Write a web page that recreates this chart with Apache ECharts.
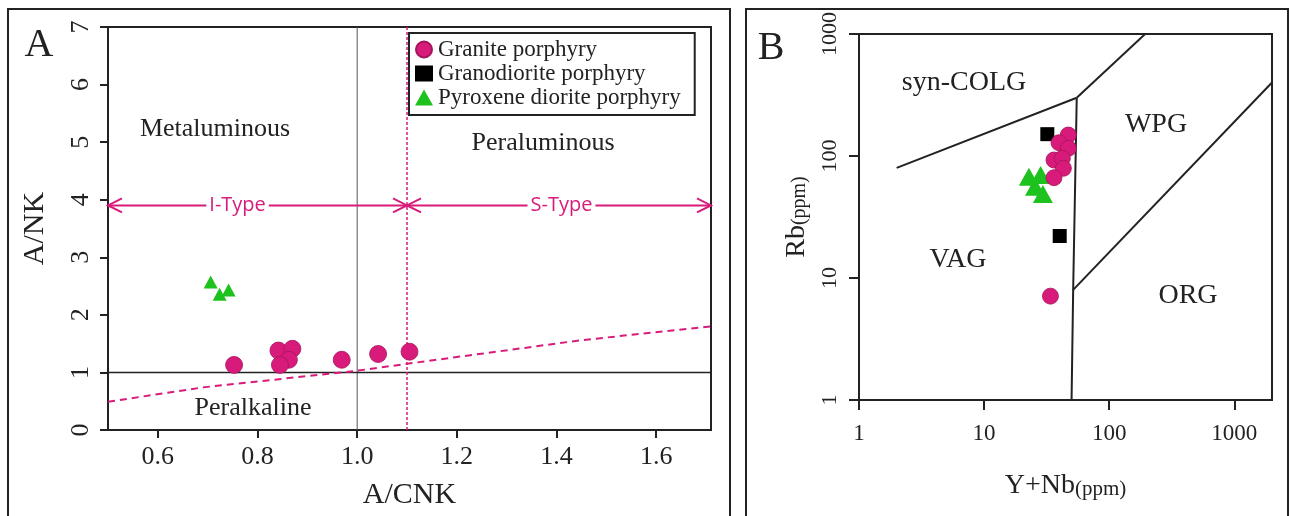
<!DOCTYPE html>
<html>
<head>
<meta charset="utf-8">
<script src="https://cdn.jsdelivr.net/npm/echarts@6/dist/echarts.min.js"></script>
<style>
  html, body { margin: 0; padding: 0; background: #fff; }
  #chart { width: 1291px; height: 516px; }
</style>
</head>
<body>
<div id="chart"></div>
<script>
// ---- panel A : A/CNK - A/NK
const graniteA = [[0.753, 1.13], [0.842, 1.38], [0.870, 1.41], [0.863, 1.22], [0.845, 1.13], [0.969, 1.22], [1.042, 1.32], [1.105, 1.36]];
const pyroxeneA = [[0.706, 2.57], [0.724, 2.36], [0.742, 2.43]];
const peralkLine = [[0.5, 0.49], [0.69, 0.74], [1.0, 1.03], [1.1, 1.15], [1.45, 1.56], [1.71, 1.8]];
const line10 = [[1.0, 0], [1.0, 7]];
const line11 = [[1.1, 0], [1.1, 7]];
const lineNK1 = [[0.5, 1], [1.71, 1]];
// [from, to, y, label x]
const typeSpans = [[0.5, 1.1, 3.9, 0.76], [1.1, 1.71, 3.9, 1.41]];
const typeNames = ['I-Type', 'S-Type'];
const xTicksA = [0.6, 0.8, 1.0, 1.2, 1.4, 1.6];

// ---- panel B : Y+Nb - Rb (Pearce 1984)
const graniteB = [[47.1, 148.6], [39.7, 128.5], [47.1, 115.7], [36.2, 92.7], [42.2, 95.7], [43.0, 79.3], [36.2, 66.4], [33.9, 7.1]];
const granodioriteB = [[32.0, 151], [40.2, 22.1]];
const pyroxeneB = [[22.8, 67.6], [28.3, 69.9], [25.5, 56.0], [29.5, 48.8]];
const colgLine = [[2, 80], [55, 300]];
const wpgTopLine = [[55, 300], [400, 2000]];
const vagLine = [[55, 300], [51.5, 8], [50, 1]];
const orgLine = [[51.5, 8], [2000, 400]];
const logTicks = [1, 10, 100, 1000];

const pink = '#d81b7a';
const green = '#1ec21e';
const serif = '"Liberation Serif", "Times New Roman", serif';

const chart = echarts.init(document.getElementById('chart'));

function bound(data, grid, color, width, type) {
  return {
    type: 'line', data: data, xAxisIndex: grid, yAxisIndex: grid,
    symbol: 'none', silent: true, clip: true, z: 1,
    lineStyle: { color: color, width: width, type: type || 'solid' }
  };
}

function regionText(text, x, y, size) {
  return {
    type: 'text', x: x, y: y, silent: true,
    style: { text: text, font: size + 'px ' + serif, fill: '#222', align: 'center', verticalAlign: 'middle' }
  };
}

const option = {
  animation: false,
  backgroundColor: '#fff',
  grid: [
    { left: 108, top: 27, width: 603, height: 403, show: true, borderColor: '#222', borderWidth: 2 },
    { left: 859, top: 34, width: 413, height: 366, show: true, borderColor: '#222', borderWidth: 2 }
  ],
  legend: {
    data: [
      { name: 'Granite porphyry', icon: 'circle' },
      { name: 'Granodiorite porphyry', icon: 'rect' },
      { name: 'Pyroxene diorite porphyry', icon: 'triangle' }
    ],
    orient: 'vertical', left: 409, top: 33,
    padding: [5, 14, 6, 6], itemGap: 1, itemWidth: 18, itemHeight: 16,
    borderColor: '#222', borderWidth: 2, selectedMode: false,
    textStyle: { fontFamily: serif, fontSize: 23, color: '#222' }
  },
  xAxis: [
    {
      type: 'value', gridIndex: 0, min: 0.5, max: 1.71,
      name: 'A/CNK', nameLocation: 'middle', nameGap: 50,
      nameTextStyle: { fontFamily: serif, fontSize: 30, color: '#222' },
      axisLine: { lineStyle: { color: '#222', width: 2 } },
      axisTick: { length: 8, customValues: xTicksA, lineStyle: { color: '#222', width: 2 } },
      axisLabel: { customValues: xTicksA, margin: 14, fontFamily: serif, fontSize: 26, color: '#222',
        formatter: v => v.toFixed(1) },
      splitLine: { show: false }
    },
    {
      type: 'log', logBase: 10, gridIndex: 1, min: 1, max: 2000,
      name: '{a|Y+Nb}{b|(ppm)}', nameLocation: 'middle', nameGap: 72,
      nameTextStyle: { rich: {
        a: { fontFamily: serif, fontSize: 28, color: '#222' },
        b: { fontFamily: serif, fontSize: 21, color: '#222', padding: [6, 0, 0, 0] }
      } },
      axisLine: { lineStyle: { color: '#222', width: 2 } },
      axisTick: { length: 10, customValues: logTicks, lineStyle: { color: '#222', width: 2 } },
      axisLabel: { customValues: logTicks, margin: 22, fontFamily: serif, fontSize: 23, color: '#222',
        formatter: v => String(v) },
      splitLine: { show: false }
    }
  ],
  yAxis: [
    {
      type: 'value', gridIndex: 0, min: 0, max: 7, interval: 1,
      name: 'A/NK', nameLocation: 'middle', nameGap: 58, nameRotate: 90,
      nameTextStyle: { fontFamily: serif, fontSize: 30, color: '#222' },
      axisLine: { lineStyle: { color: '#222', width: 2 } },
      axisTick: { length: 8, lineStyle: { color: '#222', width: 2 } },
      axisLabel: { rotate: 90, margin: 14, fontFamily: serif, fontSize: 26, color: '#222' },
      splitLine: { show: false }
    },
    {
      type: 'log', logBase: 10, gridIndex: 1, min: 1, max: 1000,
      name: '{a|Rb}{b|(ppm)}', nameLocation: 'middle', nameGap: 48, nameRotate: 90,
      nameTextStyle: { rich: {
        a: { fontFamily: serif, fontSize: 28, color: '#222' },
        b: { fontFamily: serif, fontSize: 20, color: '#222', padding: [6, 0, 0, 0] }
      } },
      axisLine: { lineStyle: { color: '#222', width: 2 } },
      axisTick: { length: 10, customValues: logTicks, lineStyle: { color: '#222', width: 2 } },
      axisLabel: { customValues: logTicks, rotate: 90, margin: 18, fontFamily: serif, fontSize: 22, color: '#222',
        formatter: v => String(v) },
      splitLine: { show: false }
    }
  ],
  series: [
    bound(line10, 0, '#555', 1),
    bound(lineNK1, 0, '#222', 1.5),
    bound(line11, 0, pink, 1.5, [3, 2]),
    bound(peralkLine, 0, pink, 2, [7, 5]),
    {
      type: 'custom', xAxisIndex: 0, yAxisIndex: 0, silent: true, z: 2,
      data: typeSpans,
      encode: { x: [0, 1, 3], y: 2 },
      renderItem: function (params, api) {
        const a = api.coord([api.value(0), api.value(2)]);
        const b = api.coord([api.value(1), api.value(2)]);
        const t = api.coord([api.value(3), api.value(2)]);
        const h = 14, w = 7;
        const st = { stroke: pink, lineWidth: 2, fill: null };
        return {
          type: 'group',
          children: [
            { type: 'line', shape: { x1: a[0], y1: a[1], x2: b[0], y2: b[1] }, style: st },
            { type: 'polyline', shape: { points: [[a[0] + h, a[1] - w], [a[0], a[1]], [a[0] + h, a[1] + w]] }, style: st },
            { type: 'polyline', shape: { points: [[b[0] - h, b[1] - w], [b[0], b[1]], [b[0] - h, b[1] + w]] }, style: st },
            { type: 'text', x: t[0], y: t[1], style: {
              text: typeNames[params.dataIndex], font: '20px "Open Sans", sans-serif', fill: pink,
              align: 'center', verticalAlign: 'middle', backgroundColor: '#fff', padding: [0, 3]
            } }
          ]
        };
      }
    },
    {
      name: 'Granite porphyry', type: 'scatter', xAxisIndex: 0, yAxisIndex: 0, z: 5,
      data: graniteA, symbol: 'circle', symbolSize: 17,
      itemStyle: { color: pink, borderColor: '#a3145c', borderWidth: 0.8, opacity: 1 }
    },
    {
      name: 'Pyroxene diorite porphyry', type: 'scatter', xAxisIndex: 0, yAxisIndex: 0, z: 5,
      data: pyroxeneA, symbol: 'triangle', symbolSize: [14, 13],
      itemStyle: { color: green, opacity: 1 }
    },

    bound(colgLine, 1, '#222', 2),
    bound(wpgTopLine, 1, '#222', 2),
    bound(vagLine, 1, '#222', 2),
    bound(orgLine, 1, '#222', 2),
    {
      name: 'Pyroxene diorite porphyry', type: 'scatter', xAxisIndex: 1, yAxisIndex: 1, z: 5,
      data: pyroxeneB, symbol: 'triangle', symbolSize: [20, 18],
      itemStyle: { color: green, opacity: 1 }
    },
    {
      name: 'Granodiorite porphyry', type: 'scatter', xAxisIndex: 1, yAxisIndex: 1, z: 5,
      data: granodioriteB, symbol: 'rect', symbolSize: 14,
      itemStyle: { color: '#000', opacity: 1 }
    },
    {
      name: 'Granite porphyry', type: 'scatter', xAxisIndex: 1, yAxisIndex: 1, z: 6,
      data: graniteB, symbol: 'circle', symbolSize: 16,
      itemStyle: { color: pink, borderColor: '#a3145c', borderWidth: 0.8, opacity: 1 }
    }
  ],
  graphic: [
    { type: 'rect', shape: { x: 8, y: 9, width: 722, height: 520 }, silent: true,
      style: { fill: null, stroke: '#222', lineWidth: 2 } },
    { type: 'rect', shape: { x: 746, y: 9, width: 542, height: 520 }, silent: true,
      style: { fill: null, stroke: '#222', lineWidth: 2 } },
    regionText('A', 39, 45, 40),
    regionText('B', 771, 48, 40),
    regionText('Metaluminous', 215, 129, 26),
    regionText('Peraluminous', 543, 143, 26),
    regionText('Peralkaline', 253, 408, 26),
    regionText('syn-COLG', 964, 83, 28),
    regionText('WPG', 1156, 125, 28),
    regionText('VAG', 958, 260, 28),
    regionText('ORG', 1188, 296, 28)
  ]
};

chart.setOption(option);
</script>
</body>
</html>
